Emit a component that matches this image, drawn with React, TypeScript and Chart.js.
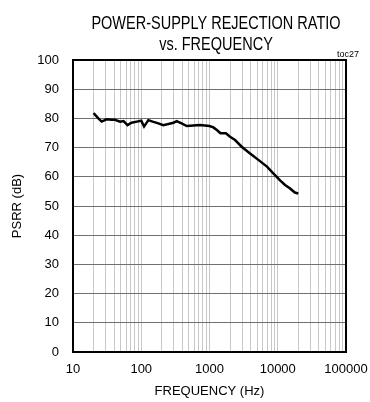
import React, { useEffect, useRef } from "react";
import { Chart, registerables } from "chart.js";

Chart.register(...registerables);

const titleLines = ["POWER-SUPPLY REJECTION RATIO", "vs. FREQUENCY"];
const cornerNote = "toc27";
const xAxisTitle = "FREQUENCY (Hz)";
const yAxisTitle = "PSRR (dB)";

const frequencyHz = [
  20, 21, 23.5, 26.3, 31, 37, 41, 49, 55, 63, 72, 86, 100, 110, 127, 147, 178,
  210, 250, 296, 330, 390, 465, 580, 725, 1000, 1140, 1280, 1450, 1740, 2000,
  2370, 2960, 3930, 5200, 6950, 8600, 10900, 12800, 15000, 17800, 20000,
];
const psrrDb = [
  81.8, 81.3, 80, 78.9, 79.7, 79.5, 79.5, 78.9, 79.1, 77.7, 78.5, 78.9, 79.2,
  77.2, 79.4, 78.9, 78.3, 77.7, 78.1, 78.5, 79.1, 78.3, 77.4, 77.6, 77.7, 77.4,
  76.9, 76.0, 74.9, 74.9, 73.7, 72.6, 70.3, 68.0, 65.8, 63.5, 61.2, 58.7, 57.2,
  56.1, 54.6, 54.3,
];
const xTickValues = [10, 100, 1000, 10000, 100000];
const yMin = 0;
const yMax = 100;
const yStep = 10;

const FONT = "'Liberation Sans', Arial, Helvetica, sans-serif";

export default function App() {
  const canvasRef = useRef<HTMLCanvasElement | null>(null);

  useEffect(() => {
    const canvas = canvasRef.current;
    if (!canvas) return;

    const frame = {
      id: "frameAndTitle",
      afterDraw(chart: any) {
        const { ctx, chartArea } = chart;
        ctx.save();
        ctx.strokeStyle = "#000";
        ctx.lineWidth = 2;
        ctx.strokeRect(
          chartArea.left,
          chartArea.top,
          chartArea.right - chartArea.left,
          chartArea.bottom - chartArea.top
        );
        ctx.fillStyle = "#000";
        ctx.textAlign = "center";
        ctx.textBaseline = "alphabetic";
        ctx.font = `14.5px ${FONT}`;
        const baselines = [28.5, 50];
        titleLines.forEach((t, i) => {
          ctx.save();
          ctx.translate(216, baselines[i]);
          ctx.scale(1, 1.3);
          ctx.fillText(t, 0, 0);
          ctx.restore();
        });
        ctx.font = `9px ${FONT}`;
        ctx.textAlign = "right";
        ctx.fillText(cornerNote, chartArea.right + 13, chartArea.top - 3);
        ctx.restore();
      },
    };

    const allXTicks: number[] = [];
    for (let d = 10; d <= 100000; d *= 10) {
      for (let m = 1; m <= 9; m++) {
        const v = d * m;
        if (v <= 100000) allXTicks.push(v);
      }
    }

    const chart = new Chart(canvas, {
      type: "line",
      data: {
        datasets: [
          {
            data: frequencyHz.map((f, i) => ({ x: f, y: psrrDb[i] })),
            borderColor: "#000",
            borderWidth: 2.5,
            pointRadius: 0,
            tension: 0,
            fill: false,
          },
        ],
      },
      options: {
        animation: false,
        responsive: false,
        layout: { padding: { top: 60, right: 24, left: 0, bottom: 0 } },
        plugins: {
          legend: { display: false },
          tooltip: { enabled: false },
          title: { display: false },
        },
        scales: {
          x: {
            type: "logarithmic",
            min: 10,
            max: 100000,
            afterFit(scale: any) {
              scale.height = 50;
              scale.paddingLeft = 0;
              scale.paddingRight = 0;
            },
            afterBuildTicks(scale: any) {
              scale.ticks = allXTicks.map((v) => ({ value: v }));
            },
            ticks: {
              autoSkip: false,
              maxRotation: 0,
              padding: 10,
              color: "#000",
              font: { size: 13, family: FONT },
              callback(value: any) {
                return xTickValues.includes(Number(value)) ? String(value) : "";
              },
            },
            grid: {
              color: "#c8c8c8",
              lineWidth: 1,
              drawTicks: false,
            },
            border: { display: true, color: "#000", width: 2 },
            title: {
              display: true,
              text: xAxisTitle,
              color: "#000",
              font: { size: 13, family: FONT },
              padding: { top: 0, bottom: 3 },
            },
          },
          y: {
            type: "linear",
            min: yMin,
            max: yMax,
            afterFit(scale: any) {
              scale.width = 73;
              scale.paddingTop = 0;
              scale.paddingBottom = 0;
            },
            ticks: {
              stepSize: yStep,
              padding: 14,
              color: "#000",
              font: { size: 13, family: FONT },
            },
            grid: {
              color: "#707070",
              lineWidth: 1,
              drawTicks: false,
            },
            border: { display: true, color: "#000", width: 2 },
            title: {
              display: true,
              text: yAxisTitle,
              color: "#000",
              font: { size: 13, family: FONT },
              padding: { top: 10, bottom: 0 },
            },
          },
        },
      },
      plugins: [frame],
    } as any);

    return () => chart.destroy();
  }, []);

  return (
    <div style={{ position: "fixed", left: 0, top: 0, width: 370, height: 402, background: "#fff" }}>
      <canvas ref={canvasRef} width={370} height={402} style={{ display: "block" }} />
    </div>
  );
}
